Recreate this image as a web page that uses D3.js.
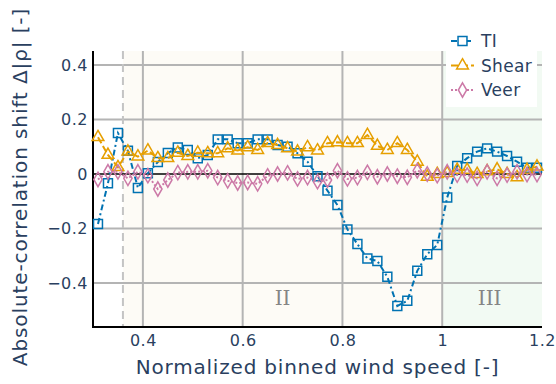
<!DOCTYPE html>
<html>
<head>
<meta charset="utf-8">
<script src="https://cdn.jsdelivr.net/npm/d3@7"></script>
<style>
    body { margin: 0; background: #fff; }
    svg { display: block; font-family: "DejaVu Sans", Verdana, sans-serif; }
</style>
</head>
<body>
<svg id="chart" width="556" height="384"></svg>
<script>

// bin centres (normalized wind speed)
const windBins = [0.31, 0.33, 0.35, 0.37, 0.39, 0.41, 0.43, 0.45, 0.47, 0.49,
    0.51, 0.53, 0.55, 0.57, 0.59, 0.61, 0.63, 0.65, 0.67, 0.69,
    0.71, 0.73, 0.75, 0.77, 0.79, 0.81, 0.83, 0.85, 0.87, 0.89,
    0.91, 0.93, 0.95, 0.97, 0.99, 1.01, 1.03, 1.05, 1.07, 1.09,
    1.11, 1.13, 1.15, 1.17, 1.19];

const tiShift = [-0.183, -0.034, 0.150, 0.085, -0.051, 0.003, 0.044, 0.077, 0.097, 0.088,
    0.058, 0.070, 0.127, 0.127, 0.113, 0.113, 0.127, 0.127, 0.106, 0.100,
    0.076, 0.045, -0.008, -0.061, -0.114, -0.203, -0.257, -0.310, -0.319, -0.377,
    -0.484, -0.465, -0.355, -0.294, -0.260, -0.086, 0.029, 0.058, 0.082, 0.094,
    0.082, 0.066, 0.045, 0.023, 0.023];

const shearShift = [0.135, 0.070, 0.025, 0.082, 0.064, 0.086, 0.058, 0.058, 0.078, 0.066,
    0.078, 0.076, 0.076, 0.094, 0.086, 0.098, 0.088, 0.113, 0.106, 0.094,
    0.082, 0.098, 0.086, 0.113, 0.116, 0.113, 0.113, 0.143, 0.103, 0.088,
    0.113, 0.088, 0.045, -0.010, 0.000, 0.003, 0.015, 0.015, 0.000, 0.010,
    0.017, 0.000, -0.012, 0.015, 0.027];

const veerShift = [-0.020, 0.008, 0.008, -0.016, 0.008, -0.006, -0.055, -0.022, 0.005, 0.008,
    0.008, 0.012, -0.013, -0.025, -0.033, -0.031, -0.036, -0.007, 0.000, 0.004,
    -0.018, -0.013, -0.028, -0.022, 0.012, -0.018, -0.013, 0.006, -0.010, 0.000,
    -0.008, -0.012, 0.012, 0.000, -0.006, 0.008, -0.004, -0.004, -0.016, 0.008,
    -0.016, -0.004, 0.008, -0.002, -0.002];

const xTicks = [0.4, 0.6, 0.8, 1.0, 1.2];
const yTicks = [-0.4, -0.2, 0, 0.2, 0.4];

// operating regions: [start, end, label]
const regionII = [0.36, 1.0, "II"];
const regionIII = [1.0, 1.2, "III"];

const seriesNames = ["TI", "Shear", "Veer"];

const margin = { top: 51, right: 14, bottom: 57, left: 93 };
const width = 556, height = 384;

const textColor = "#2a3f5f";

const svg = d3.select("#chart");

const x = d3.scaleLinear()
    .domain([0.3, 1.2])
    .range([margin.left, width - margin.right]);

const y = d3.scaleLinear()
    .domain([-0.561, 0.451])
    .range([height - margin.bottom, margin.top]);

// region backgrounds
svg.append("rect")
    .attr("x", x(regionII[0]))
    .attr("y", margin.top)
    .attr("width", x(regionII[1]) - x(regionII[0]))
    .attr("height", y.range()[0] - margin.top)
    .attr("fill", "#fdfbf6");

svg.append("rect")
    .attr("x", x(regionIII[0]))
    .attr("y", margin.top)
    .attr("width", x(regionIII[1]) - x(regionIII[0]))
    .attr("height", y.range()[0] - margin.top)
    .attr("fill", "#f2faf3");

// grid
svg.append("g")
    .selectAll("line")
    .data(xTicks.filter(d => d < 1.2))
    .join("line")
    .attr("x1", d => x(d)).attr("x2", d => x(d))
    .attr("y1", margin.top).attr("y2", y.range()[0])
    .attr("stroke", "#b4b4b4")
    .attr("stroke-width", 2);

svg.append("g")
    .selectAll("line")
    .data(yTicks.filter(d => d !== 0))
    .join("line")
    .attr("x1", margin.left).attr("x2", x(1.2))
    .attr("y1", d => y(d)).attr("y2", d => y(d))
    .attr("stroke", "#b4b4b4")
    .attr("stroke-width", 2);

// region labels
svg.append("g")
    .selectAll("text")
    .data([regionII, regionIII])
    .join("text")
    .attr("x", (d, i) => x(i === 0 ? 0.68 : 1.095))
    .attr("y", y(-0.455) + 7)
    .attr("text-anchor", "middle")
    .attr("font-family", "DejaVu Serif, serif")
    .attr("font-size", 20)
    .attr("fill", "#858585")
    .text(d => d[2]);

// cut-in marker
svg.append("line")
    .attr("x1", x(regionII[0])).attr("x2", x(regionII[0]))
    .attr("y1", margin.top).attr("y2", y.range()[0])
    .attr("stroke", "#c4c4c4")
    .attr("stroke-width", 2)
    .attr("stroke-dasharray", "8,5");

// zero line and axis lines
svg.append("line")
    .attr("x1", margin.left).attr("x2", x(1.2))
    .attr("y1", y(0)).attr("y2", y(0))
    .attr("stroke", "#000").attr("stroke-width", 1.5);

svg.append("line")
    .attr("x1", margin.left).attr("x2", margin.left)
    .attr("y1", margin.top).attr("y2", y.range()[0] + 1)
    .attr("stroke", "#000").attr("stroke-width", 2);

svg.append("line")
    .attr("x1", margin.left - 1).attr("x2", x(1.2))
    .attr("y1", y.range()[0]).attr("y2", y.range()[0])
    .attr("stroke", "#000").attr("stroke-width", 2);

// tick labels through d3 axes, no domain / tick marks
const fmt = d => d === 0 ? "0" : d3.format(".1f")(d).replace("-", "\u2212");

const xAxis = svg.append("g")
    .attr("transform", `translate(0,${y.range()[0]})`)
    .call(d3.axisBottom(x).tickValues(xTicks).tickSize(0).tickPadding(8)
        .tickFormat(d => d === 1 ? "1" : d3.format(".1f")(d)));

const yAxis = svg.append("g")
    .attr("transform", `translate(${margin.left},0)`)
    .call(d3.axisLeft(y).tickValues(yTicks).tickSize(0).tickPadding(5).tickFormat(fmt));

[xAxis, yAxis].forEach(a => {
    a.select(".domain").remove();
    a.selectAll("text")
        .attr("fill", textColor)
        .attr("font-size", 16)
        .attr("letter-spacing", 0.5)
        .attr("font-family", "DejaVu Sans, sans-serif");
});

// axis titles
svg.append("text")
    .attr("x", (margin.left + x(1.2)) / 2)
    .attr("y", 374)
    .attr("text-anchor", "middle")
    .attr("fill", textColor)
    .attr("font-size", 20)
    .attr("letter-spacing", 0.8)
    .text("Normalized binned wind speed [-]");

svg.append("text")
    .attr("transform", `translate(27,${(margin.top + y.range()[0]) / 2 - 2}) rotate(-90)`)
    .attr("text-anchor", "middle")
    .attr("fill", textColor)
    .attr("font-size", 20)
    .attr("letter-spacing", 0.9)
    .text("Absolute-correlation shift \u0394|\u03c1| [-]");

// series
const series = [
    { name: seriesNames[0], values: tiShift, color: "#0072b2", dash: "6,3,2,3", symbol: d3.symbolSquare, size: 80 },
    { name: seriesNames[1], values: shearShift, color: "#e69f00", dash: "7,3", symbol: d3.symbolTriangle, size: 60 },
    { name: seriesNames[2], values: veerShift, color: "#cc79a7", dash: "2,2", symbol: d3.symbolDiamond, size: 60 }
];

const line = d3.line()
    .x(d => x(d[0]))
    .y(d => y(d[1]));

const plot = svg.append("g");

series.forEach(s => {
    let pts = windBins.map((b, i) => [b, s.values[i]]);

    plot.append("path")
        .datum(pts)
        .attr("d", line)
        .attr("fill", "none")
        .attr("stroke", s.color)
        .attr("stroke-width", 2)
        .attr("stroke-dasharray", s.dash);

    plot.append("g")
        .selectAll("path")
        .data(pts)
        .join("path")
        .attr("transform", d => `translate(${x(d[0])},${y(d[1])})`)
        .attr("d", d3.symbol().type(s.symbol).size(s.size))
        .attr("fill", "none")
        .attr("stroke", s.color)
        .attr("stroke-width", 1.5);
});

// legend
const legend = svg.append("g").attr("transform", "translate(446,30)");

legend.append("rect")
    .attr("width", 91)
    .attr("height", 77)
    .attr("fill", "#fff");

const item = legend.selectAll("g")
    .data(series)
    .join("g")
    .attr("transform", (d, i) => `translate(0,${11 + i * 24.5})`);

item.append("line")
    .attr("x1", 5).attr("x2", 28)
    .attr("stroke", d => d.color)
    .attr("stroke-width", 2)
    .attr("stroke-dasharray", d => d.dash);

item.append("path")
    .attr("transform", "translate(16.5,0)")
    .attr("d", d => d3.symbol().type(d.symbol).size(d.size)())
    .attr("fill", "#fff")
    .attr("stroke", d => d.color)
    .attr("stroke-width", 1.5);

item.append("text")
    .attr("x", 35)
    .attr("dy", "0.36em")
    .attr("fill", textColor)
    .attr("font-size", 17)
    .attr("letter-spacing", 0.3)
    .text(d => d.name);

</script>
</body>
</html>
